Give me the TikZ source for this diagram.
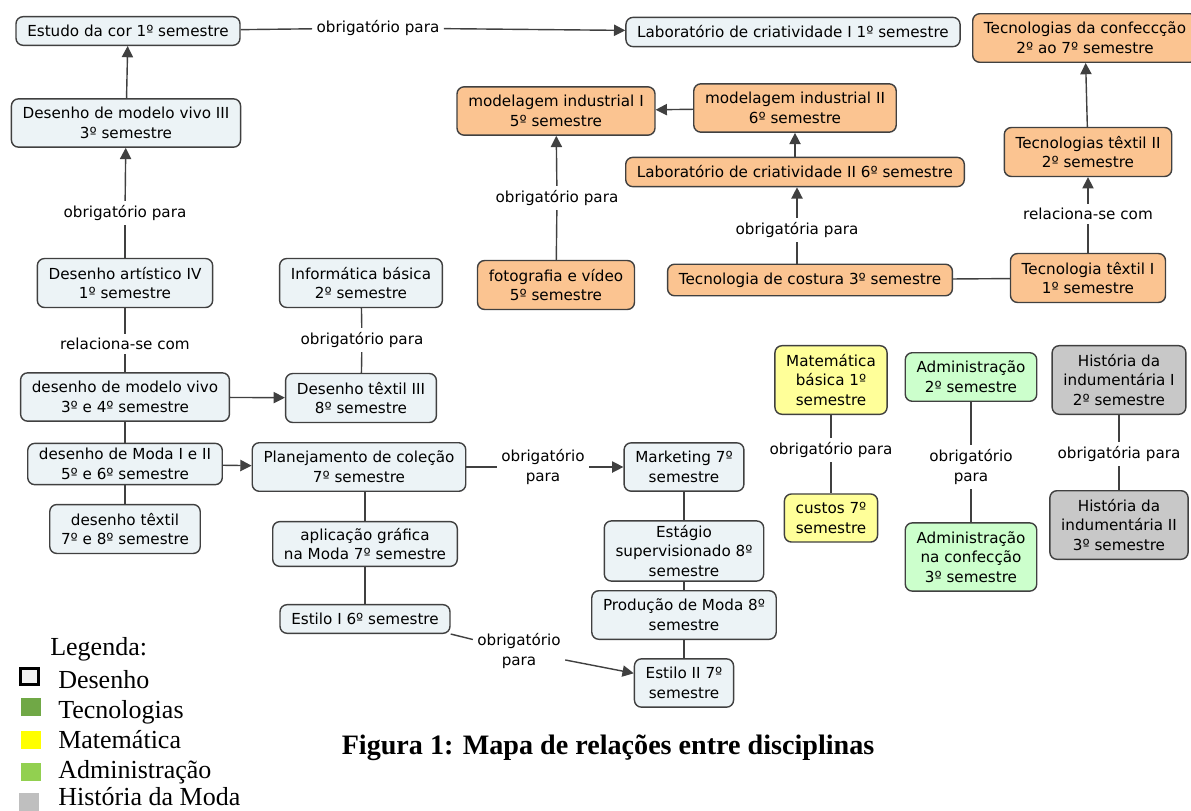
\documentclass[tikz,border=0pt]{standalone}
\usepackage{fontspec}
\setmainfont{Liberation Serif}
\newfontfamily\mapfont{DejaVu Sans}
\usetikzlibrary{arrows.meta,positioning}

\definecolor{desenhoFill}{RGB}{236,243,246}
\definecolor{tecFill}{RGB}{251,196,145}
\definecolor{matFill}{RGB}{255,255,153}
\definecolor{admFill}{RGB}{204,255,204}
\definecolor{histFill}{RGB}{200,200,200}
\definecolor{lineGray}{RGB}{64,64,64}
\definecolor{legTec}{RGB}{112,168,70}
\definecolor{legMat}{RGB}{255,255,0}
\definecolor{legAdm}{RGB}{146,208,80}
\definecolor{legHist}{RGB}{191,191,191}

\begin{document}
\begin{tikzpicture}[x=0.025cm,y=-0.025cm,>={Triangle[length=8pt,width=8pt]}]

    \tikzstyle{commonNode}=[draw=lineGray, line width=1pt, rounded corners=5pt, align=center, font=\mapfont\fontsize{10.8}{14}\selectfont, inner xsep=8pt, inner ysep=6pt]
    \tikzstyle{desenho}=[commonNode, fill=desenhoFill]
    \tikzstyle{tec}=[commonNode, fill=tecFill]
    \tikzstyle{mat}=[commonNode, fill=matFill]
    \tikzstyle{adm}=[commonNode, fill=admFill]
    \tikzstyle{hist}=[commonNode, fill=histFill]
    \tikzstyle{rel}=[font=\mapfont\fontsize{10.8}{14}\selectfont, align=center, inner sep=3pt]
    \tikzstyle{conn}=[draw=lineGray, line width=1pt]
    \tikzstyle{legText}=[anchor=base west, inner sep=0pt, font=\fontsize{18.5}{20}\selectfont]
    \tikzstyle{legBox}=[minimum width=14pt, minimum height=13pt, inner sep=0pt]

    \useasboundingbox (0,0) rectangle (1191,810);

    % Desenho
    \node at (128,31)  [desenho] (cor)      {Estudo da cor 1º semestre};
    \node at (793,32)  [desenho] (labI)     {Laboratório de criatividade I 1º semestre};
    \node at (126,123) [desenho] (vivoIII)  {Desenho de modelo vivo III\\3º semestre};
    \node at (125,283) [desenho] (artIV)    {Desenho artístico IV\\1º semestre};
    \node at (125,397) [desenho] (vivo)     {desenho de modelo vivo\\3º e 4º semestre};
    \node at (361,283) [desenho] (info)     {Informática básica\\2º semestre};
    \node at (361,398) [desenho] (texIII)   {Desenho têxtil III\\8º semestre};
    \node at (125,464) [desenho, inner ysep=3.5pt] (moda) {desenho de Moda I e II\\5º e 6º semestre};
    \node at (125,529) [desenho] (texDes)   {desenho têxtil\\7º e 8º semestre};
    \node at (359,467) [desenho] (plan)     {Planejamento de coleção\\7º semestre};
    \node at (365,544) [desenho, inner ysep=4.5pt] (aplic) {aplicação gráfica\\na Moda 7º semestre};
    \node at (365,619) [desenho] (estiloI)  {Estilo I 6º semestre};
    \node at (684,467) [desenho] (mkt)      {Marketing 7º\\semestre};
    \node at (684,551) [desenho, inner ysep=3pt] (estagio) {Estágio\\supervisionado 8º\\semestre};
    \node at (684,615) [desenho] (prod)     {Produção de Moda 8º\\semestre};
    \node at (684,683) [desenho] (estiloII) {Estilo II 7º\\semestre};

    % Tecnologias
    \node at (556,111)  [tec] (modI)    {modelagem industrial I\\5º semestre};
    \node at (795,108)  [tec] (modII)   {modelagem industrial II\\6º semestre};
    \node at (795,172)  [tec] (labII)   {Laboratório de criatividade II 6º semestre};
    \node at (556,285)  [tec] (foto)    {fotografia e vídeo\\5º semestre};
    \node at (810,280)  [tec] (costura) {Tecnologia de costura 3º semestre};
    \node at (1088,278) [tec] (texI)    {Tecnologia têxtil I\\1º semestre};
    \node at (1088,152) [tec] (texII)   {Tecnologias têxtil II\\2º semestre};
    \node at (1085,38)  [tec] (confec)  {Tecnologias da confeccção\\2º ao 7º semestre};

    % Matematica, Administracao, Historia
    \node at (831,380)  [mat]  (matB)    {Matemática\\básica 1º\\semestre};
    \node at (831,518)  [mat]  (custos)  {custos 7º\\semestre};
    \node at (971,377)  [adm]  (admI)    {Administração\\2º semestre};
    \node at (971,557)  [adm]  (admConf) {Administração\\na confecção\\3º semestre};
    \node at (1119,380) [hist] (histI)   {História da\\indumentária I\\2º semestre};
    \node at (1119,525) [hist] (histII)  {História da\\indumentária II\\3º semestre};

    % Linking phrases
    \node at (378,28)   [rel] (rCor)    {obrigatório para};
    \node at (125,213)  [rel] (rArt)    {obrigatório para};
    \node at (125,344)  [rel] (rVivo)   {relaciona-se com};
    \node at (362,340)  [rel] (rInfo)   {obrigatório para};
    \node at (543,467)  [rel] (rPlan)   {obrigatório\\para};
    \node at (519,651)  [rel] (rEstilo) {obrigatório\\para};
    \node at (557,198)  [rel] (rFoto)   {obrigatório para};
    \node at (797,230)  [rel] (rCost)   {obrigatória para};
    \node at (1088,214) [rel] (rTex)    {relaciona-se com};
    \node at (831,450)  [rel] (rMat)    {obrigatório para};
    \node at (971,467)  [rel] (rAdm)    {obrigatório\\para};
    \node at (1119,454) [rel] (rHist)   {obrigatória para};

    % Connectors
    \draw[conn] (cor) -- (rCor);
    \draw[conn,->] (rCor) -- (labI);
    \draw[conn] (artIV) -- (rArt);
    \draw[conn,->] (rArt) -- (vivoIII);
    \draw[conn,->] (vivoIII) -- (cor);
    \draw[conn] (artIV) -- (rVivo) -- (vivo);
    \draw[conn] (info) -- (rInfo) -- (texIII);
    \draw[conn,->] (vivo) -- (texIII);
    \draw[conn] (vivo) -- (moda) -- (texDes);
    \draw[conn,->] (moda) -- (plan);
    \draw[conn] (plan.south -| aplic) -- (aplic) -- (estiloI);
    \draw[conn] (plan) -- (rPlan);
    \draw[conn,->] (rPlan) -- (mkt);
    \draw[conn] (mkt) -- (estagio) -- (prod) -- (estiloII);
    \draw[conn] (estiloI.south east) -- (rEstilo);
    \draw[conn,->] (rEstilo) -- (estiloII);

    \draw[conn] (foto) -- (rFoto);
    \draw[conn,->] (rFoto) -- (modI);
    \draw[conn,->] (modII) -- (modI);
    \draw[conn,->] (labII) -- (modII);
    \draw[conn] (costura.north -| rCost) -- (rCost);
    \draw[conn,->] (rCost) -- (labII.south -| rCost);
    \draw[conn] (texI) -- (costura);
    \draw[conn] (texI) -- (rTex);
    \draw[conn,->] (rTex) -- (texII);
    \draw[conn,->] (texII) -- (confec);

    \draw[conn] (matB) -- (rMat) -- (custos);
    \draw[conn] (admI) -- (rAdm) -- (admConf);
    \draw[conn] (histI) -- (rHist) -- (histII);

    % Legend
    \node at (50,655) [legText] (legTitle) {Legenda:};
    \node at (29.5,676.5) [legBox, draw=black, line width=2.2pt, fill=black!5, minimum width=13pt, minimum height=12pt] (sqDes) {};
    \node at (31,707)  [legBox, fill=legTec]  (sqTec)  {};
    \node at (31,740)  [legBox, fill=legMat]  (sqMat)  {};
    \node at (31,772)  [legBox, fill=legAdm]  (sqAdm)  {};
    \node at (29,802)  [legBox, fill=legHist] (sqHist) {};
    \node at (58,688)  [legText] (tDes)  {Desenho};
    \node at (58,718)  [legText] (tTec)  {Tecnologias};
    \node at (58,748)  [legText] (tMat)  {Matemática};
    \node at (58,778)  [legText] (tAdm)  {Administração};
    \node at (58,805)  [legText] (tHist) {História da Moda};

    % Caption
    \node at (608,754) [anchor=base, inner sep=0pt, font=\bfseries\fontsize{20}{22}\selectfont] (caption) {Figura 1: Mapa de relações entre disciplinas};

\end{tikzpicture}
\end{document}
